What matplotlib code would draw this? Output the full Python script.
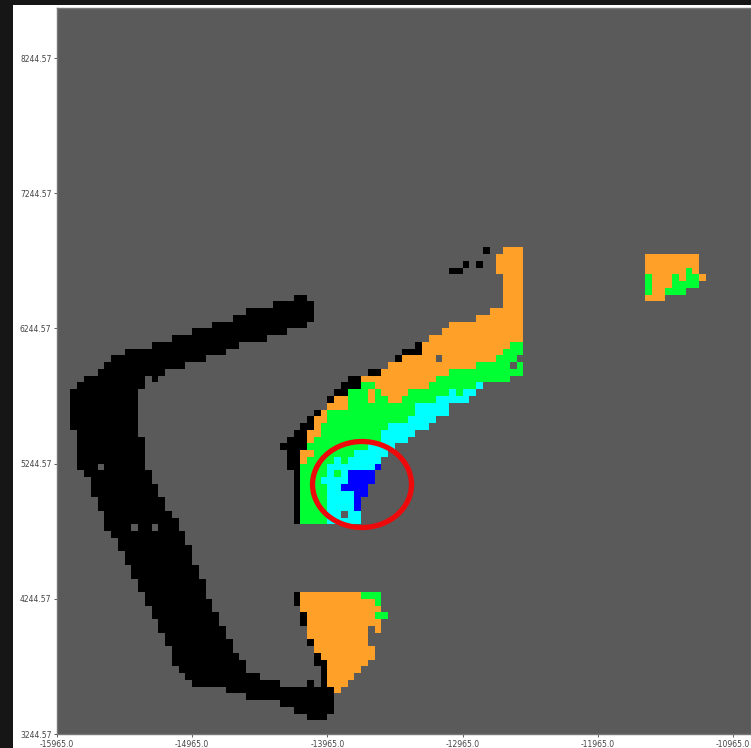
import numpy as np
import matplotlib
matplotlib.use("Agg")
import matplotlib.pyplot as plt
from matplotlib.colors import ListedColormap
from matplotlib.patches import Ellipse, Rectangle

x_ticks = [-15965.0, -14965.0, -13965.0, -12965.0, -11965.0, -10965.0]
y_ticks = [3244.57, 4244.57, 5244.57, 6244.57, 7244.57, 8244.57]
cell = 50.0
n_rows = 108
n_cols = 103

# (row from bottom, first col, last col + 1)
black = [
    (71, 63, 64), (69, 60, 61), (69, 62, 63), (68, 58, 60),
    (64, 35, 37), (63, 32, 38), (62, 28, 38), (61, 26, 38), (60, 23, 37), (59, 20, 34),
    (58, 17, 31), (57, 14, 27), (57, 53, 54), (56, 10, 25), (56, 51, 54), (55, 8, 22),
    (55, 50, 51), (54, 7, 19), (53, 6, 16), (53, 46, 48), (52, 4, 13), (52, 14, 15),
    (52, 43, 45), (51, 3, 13), (51, 42, 45), (50, 2, 12), (50, 41, 43), (49, 2, 12),
    (49, 40, 41), (48, 2, 12), (47, 2, 12), (47, 38, 39), (46, 2, 12), (46, 37, 38),
    (45, 2, 12), (45, 36, 38), (44, 3, 12), (44, 35, 37), (43, 3, 13), (43, 34, 37),
    (42, 3, 13), (42, 33, 37), (41, 3, 13), (41, 34, 36), (40, 3, 13), (40, 34, 36),
    (39, 3, 13), (39, 34, 36), (38, 4, 14), (38, 35, 36), (37, 5, 14), (37, 35, 36),
    (36, 5, 15), (36, 35, 36), (35, 5, 15), (35, 35, 36), (34, 6, 16), (34, 35, 36),
    (33, 6, 16), (33, 35, 36), (32, 7, 17), (32, 35, 36), (31, 7, 18), (31, 35, 36),
    (30, 7, 18), (29, 8, 19), (28, 9, 19), (27, 9, 20), (26, 10, 20), (25, 10, 20),
    (24, 11, 21), (23, 11, 21), (22, 12, 22), (21, 12, 22), (20, 13, 22), (20, 35, 36),
    (19, 13, 23), (19, 35, 36), (18, 14, 23), (17, 14, 24), (17, 36, 37), (16, 15, 24),
    (16, 36, 37), (15, 15, 25), (14, 16, 25), (13, 16, 26), (13, 37, 38), (12, 17, 26),
    (11, 17, 27), (11, 38, 39), (10, 17, 28), (10, 38, 40), (9, 18, 28), (9, 39, 40),
    (8, 19, 30), (8, 39, 40), (7, 20, 33), (7, 37, 38), (7, 39, 40), (6, 25, 41),
    (5, 28, 41), (4, 33, 41), (3, 35, 41), (2, 37, 40),
]

orange = [
    (71, 66, 69), (70, 65, 69), (69, 65, 69), (68, 65, 69), (67, 66, 69), (66, 66, 69),
    (65, 66, 69), (64, 66, 69), (63, 66, 69), (62, 64, 69), (61, 62, 69), (60, 58, 69),
    (59, 57, 69), (58, 55, 69), (57, 54, 67), (56, 54, 66), (55, 51, 65), (54, 49, 62),
    (53, 48, 58), (52, 45, 56), (51, 47, 55), (50, 46, 47), (50, 48, 52), (49, 41, 43),
    (49, 46, 47), (49, 49, 51), (48, 40, 43), (47, 39, 40), (46, 38, 40), (45, 38, 39),
    (44, 37, 39), (43, 37, 38), (41, 36, 38), (40, 36, 37),
    (20, 36, 45), (19, 36, 47), (18, 36, 48), (17, 37, 47), (16, 37, 48), (15, 37, 46),
    (15, 47, 48), (14, 37, 46), (13, 38, 46), (12, 38, 47), (11, 39, 47), (10, 40, 46),
    (9, 40, 45), (8, 40, 44), (7, 40, 43), (6, 41, 42),
    (70, 87, 95), (69, 87, 95), (68, 87, 93), (68, 94, 95), (67, 88, 91), (67, 92, 93),
    (67, 95, 96), (66, 88, 91), (65, 88, 90), (64, 87, 90),
]

green = [
    (57, 67, 69), (56, 66, 69), (55, 65, 68), (54, 62, 67), (54, 68, 69), (53, 58, 69),
    (52, 56, 67), (51, 45, 47), (51, 55, 62), (50, 43, 46), (50, 47, 48), (50, 52, 58),
    (50, 59, 60), (49, 43, 46), (49, 47, 49), (49, 51, 56), (48, 43, 53), (47, 40, 53),
    (46, 40, 52), (45, 39, 49), (44, 39, 48), (43, 38, 48), (42, 37, 46), (41, 38, 44),
    (40, 37, 41), (40, 42, 43), (39, 36, 40), (38, 36, 40), (38, 41, 42), (37, 36, 39),
    (36, 36, 40), (35, 36, 40), (34, 36, 40), (33, 36, 40), (32, 36, 40), (31, 36, 40),
    (20, 45, 48), (19, 47, 48), (17, 47, 49),
    (68, 93, 94), (67, 87, 88), (67, 91, 92), (67, 93, 95), (66, 87, 88), (66, 91, 95),
    (65, 87, 88), (65, 90, 93),
]

cyan = [
    (51, 62, 63), (50, 58, 59), (50, 60, 62), (49, 56, 61), (48, 53, 58), (47, 53, 58),
    (46, 52, 56), (45, 49, 55), (44, 48, 53), (43, 48, 52), (42, 46, 50), (41, 44, 49),
    (40, 41, 42), (40, 43, 48), (39, 40, 47), (38, 40, 41), (38, 42, 43), (37, 39, 43),
    (36, 40, 42), (35, 40, 44), (34, 40, 44), (33, 40, 44), (32, 40, 42), (32, 43, 45),
    (31, 40, 45),
]

blue = [
    (39, 47, 48), (38, 43, 47), (37, 43, 47), (36, 42, 46), (35, 44, 46), (34, 44, 45),
    (33, 44, 45),
]

# grey cells left inside the shapes: (30, 11), (30, 14), (39, 6), (55, 56), (54, 67), (32, 42)
holes = [(30, 11, 12), (30, 14, 15), (39, 6, 7), (55, 56, 57), (54, 67, 68)]

grid = np.zeros((n_rows, n_cols), dtype=int)
for code, runs in enumerate([black, orange, green, cyan, blue], start=1):
    for row, c0, c1 in runs:
        grid[row, c0:c1] = code
for row, c0, c1 in holes:
    grid[row, c0:c1] = 0

cmap = ListedColormap(["#5a5a5a", "#000000", "#ffa128", "#00ff33", "#00ffff", "#0000ff"])

fig = plt.figure(figsize=(7.51, 7.48), dpi=100, facecolor="white")
fig.add_artist(Rectangle((0, 0), 13 / 751, 1, transform=fig.transFigure, color="#161616", lw=0))
fig.add_artist(Rectangle((0, 1 - 5 / 748), 1, 5 / 748, transform=fig.transFigure, color="#161616", lw=0))

ax = fig.add_axes([57 / 751, (748 - 734) / 748, (751 - 57) / 751, (734 - 8) / 748])
x0 = x_ticks[0]
y0 = y_ticks[0]
ax.imshow(grid, cmap=cmap, vmin=0, vmax=5, origin="lower", interpolation="nearest", aspect="auto",
          extent=(x0, x0 + n_cols * cell, y0, y0 + n_rows * cell))
ax.set_xlim(x0, x0 + 694 / 0.1352)
ax.set_ylim(y0, y0 + 726 / 0.1352)

ax.add_patch(Ellipse((-13709, 5090), 732, 636, fill=False, edgecolor="#ee0a0a", lw=3.8))

ax.set_xticks(x_ticks)
ax.set_xticklabels([str(v) for v in x_ticks])
ax.set_yticks(y_ticks)
ax.set_yticklabels([str(v) for v in y_ticks])
ax.tick_params(labelsize=5.5, length=2.5, width=0.6, pad=1.5, colors="#444444")
for spine in ax.spines.values():
    spine.set_color("#777777")
    spine.set_linewidth(1.0)

fig.savefig("out.png", dpi=100)
